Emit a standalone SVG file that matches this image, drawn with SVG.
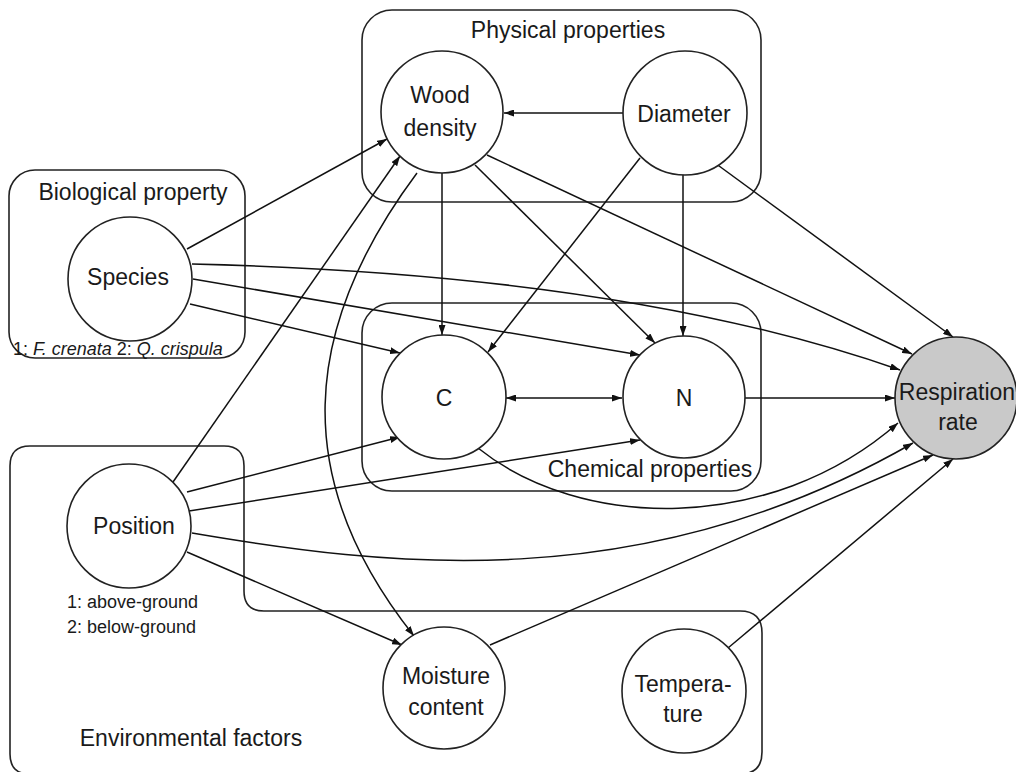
<svg xmlns="http://www.w3.org/2000/svg" width="1016" height="772" viewBox="0 0 1016 772">
<defs>
<style>
.box{fill:none;stroke:#222;stroke-width:1.6}
.node{fill:#fff;stroke:#222;stroke-width:1.6}
.resp{fill:#c9c9c9;stroke:#222;stroke-width:1.6}
.t{font-family:"Liberation Sans",Arial,sans-serif;font-size:23px;fill:#1a1a1a;text-anchor:middle}
.s{font-family:"Liberation Sans",Arial,sans-serif;font-size:18px;fill:#1a1a1a}
.e{fill:none;stroke:#111;stroke-width:1.5;marker-end:url(#ah)}
</style>
<marker id="ah" viewBox="0 0 10 7" refX="10" refY="3.5" markerWidth="10" markerHeight="7" markerUnits="userSpaceOnUse" orient="auto-start-reverse">
<path d="M0,0 L10,3.5 L0,7 z" fill="#111"/>
</marker>
</defs>
<rect width="1016" height="772" fill="#fff"/>

<g id="groups">
<rect class="box" x="362" y="10" width="399" height="192" rx="30"/>
<rect class="box" x="9" y="170" width="236" height="188" rx="26"/>
<rect class="box" x="362" y="303" width="399" height="188" rx="30"/>
<path class="box" d="M30,446 L224,446 Q244,446 244,466 L244,591 Q244,611 264,611 L740,611 Q762,611 762,633 L762,752 Q762,774 740,774 L30,774 Q10,774 10,754 L10,466 Q10,446 30,446 Z"/>
</g>

<g id="connectors">
<line class="e" x1="623" y1="113" x2="504" y2="113"/>
<line class="e" x1="187" y1="249" x2="387" y2="139"/>
<line class="e" x1="173" y1="482" x2="400" y2="156"/>
<path class="e" d="M417,173 C300,330 290,480 414,636"/>
<line class="e" x1="442" y1="173" x2="442" y2="335"/>
<line class="e" x1="475" y1="165" x2="655" y2="343"/>
<line class="e" x1="487" y1="155" x2="912" y2="354"/>
<line class="e" x1="640" y1="158" x2="488" y2="352"/>
<line class="e" x1="683" y1="174" x2="683" y2="336"/>
<line class="e" x1="715" y1="163" x2="953" y2="337"/>
<line class="e" x1="190" y1="304" x2="400" y2="353"/>
<line class="e" x1="193" y1="279" x2="640" y2="355"/>
<path class="e" d="M192,264 C450,270 700,300 900,370"/>
<line class="e" x1="187" y1="492" x2="400" y2="437"/>
<line class="e" x1="189" y1="511" x2="640" y2="440"/>
<path class="e" d="M192,533 C380,565 640,600 913,443"/>
<line class="e" x1="187" y1="552" x2="402" y2="645"/>
<path class="e" d="M478,448 C580,530 770,535 898,423"/>
<line class="e" x1="745" y1="398" x2="895" y2="398"/>
<line class="e" x1="490" y1="645" x2="933" y2="455"/>
<line class="e" x1="728" y1="648" x2="953" y2="459"/>
<line class="e" x1="506" y1="398" x2="622" y2="398" marker-start="url(#ah)"/>
</g>

<g id="labels">
<text class="t" x="568" y="38">Physical properties</text>
<text class="t" x="133" y="200">Biological property</text>
<text class="s" x="13" y="355">1: <tspan font-style="italic">F. crenata</tspan> 2: <tspan font-style="italic">Q. crispula</tspan></text>
<text class="t" x="650" y="477">Chemical properties</text>
<text class="t" x="191" y="746">Environmental factors</text>
<text class="s" x="67" y="608">1: above-ground</text>
<text class="s" x="67" y="633">2: below-ground</text>
</g>

<g id="wood-density">
<circle class="node" cx="442" cy="112" r="61"/>
<text class="t" x="440" y="103">Wood</text>
<text class="t" x="440" y="136">density</text>
</g>
<g id="diameter">
<circle class="node" cx="685" cy="113" r="62"/>
<text class="t" x="684" y="122">Diameter</text>
</g>
<g id="species">
<circle class="node" cx="130" cy="279" r="62"/>
<text class="t" x="128" y="285">Species</text>
</g>
<g id="c">
<circle class="node" cx="444" cy="397" r="62"/>
<text class="t" x="444" y="406">C</text>
</g>
<g id="n">
<circle class="node" cx="684" cy="397" r="61"/>
<text class="t" x="684" y="406">N</text>
</g>
<g id="respiration-rate">
<circle class="resp" cx="956" cy="398" r="61"/>
<text class="t" x="957" y="400">Respiration</text>
<text class="t" x="958" y="430">rate</text>
</g>
<g id="position">
<circle class="node" cx="129" cy="526" r="62"/>
<text class="t" x="134" y="534">Position</text>
</g>
<g id="moisture-content">
<circle class="node" cx="444" cy="688" r="61"/>
<text class="t" x="446" y="684">Moisture</text>
<text class="t" x="446" y="715">content</text>
</g>
<g id="temperature">
<circle class="node" cx="684" cy="691" r="62"/>
<text class="t" x="683" y="692">Tempera-</text>
<text class="t" x="683" y="722">ture</text>
</g>
</svg>
